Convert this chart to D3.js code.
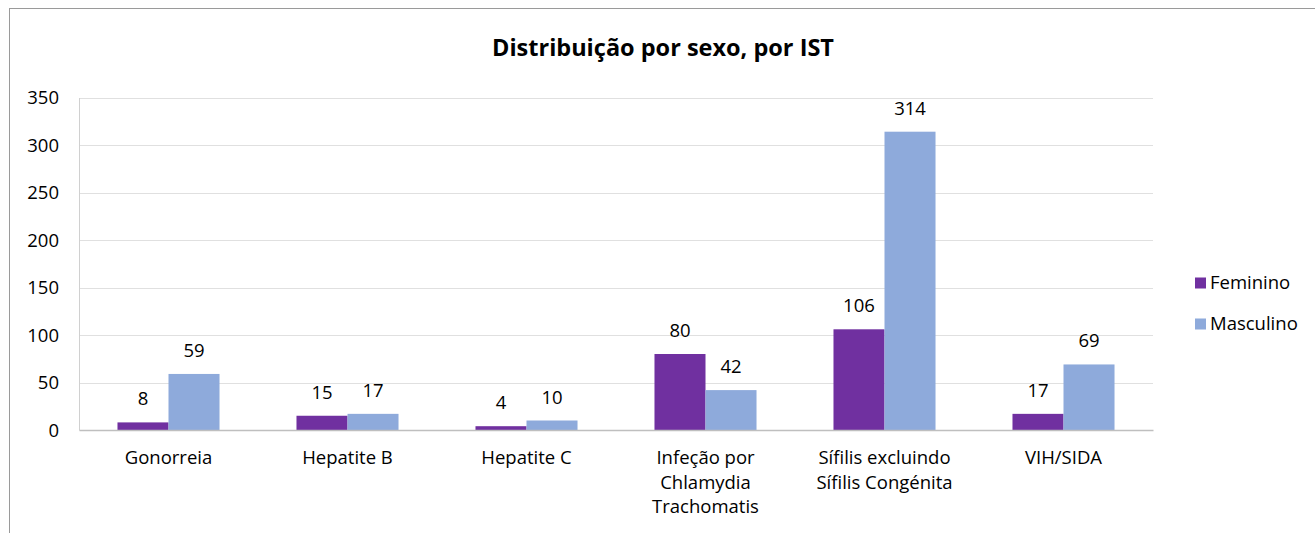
<!DOCTYPE html>
<html>
<head>
<meta charset="utf-8">
<script src="https://cdn.jsdelivr.net/npm/d3@7"></script>
<style>
  body { margin: 0; background: #fff; }
  text { font-family: "Open Sans", "Liberation Sans", sans-serif; fill: #000; }
</style>
</head>
<body>
<div id="chart"></div>
<script>
// Data
const categories = [
  "Gonorreia",
  "Hepatite B",
  "Hepatite C",
  "Infeção por|Chlamydia|Trachomatis",
  "Sífilis excluindo|Sífilis Congénita",
  "VIH/SIDA",
];
const series = ["Feminino", "Masculino"];
const feminino = [8, 15, 4, 80, 106, 17];
const masculino = [59, 17, 10, 42, 314, 69];
const yTicks = [0, 50, 100, 150, 200, 250, 300, 350];
const colors = ["#7030A0", "#8EAADB"];

const width = 1315;
const height = 533;
const plot = { left: 79, right: 1153, top: 97.5, bottom: 430 };
const fontSize = "18.5px";

const svg = d3
  .select("#chart")
  .append("svg")
  .attr("width", width)
  .attr("height", height);

// Outer chart border
svg
  .append("rect")
  .attr("x", 9.5)
  .attr("y", 8.5)
  .attr("width", 1320)
  .attr("height", 540)
  .attr("fill", "none")
  .attr("stroke", "#9a9a9a")
  .attr("stroke-width", 1);

svg
  .append("text")
  .attr("x", 663)
  .attr("y", 56)
  .attr("text-anchor", "middle")
  .style("font-size", "23.5px")
  .style("font-weight", "bold")
  .text("Distribuição por sexo, por IST");

// Scales
const x0 = d3
  .scaleBand()
  .domain(categories)
  .range([plot.left, plot.right])
  .paddingInner(0.43)
  .paddingOuter(0.215);

const x1 = d3.scaleBand().domain(series).range([0, x0.bandwidth()]);

const y = d3.scaleLinear().domain([0, 350]).range([plot.bottom, plot.top]);

// Gridlines
svg
  .append("g")
  .selectAll("line")
  .data(yTicks.filter((d) => d > 0))
  .join("line")
  .attr("x1", plot.left)
  .attr("x2", plot.right)
  .attr("y1", (d) => Math.round(y(d)) + 0.5)
  .attr("y2", (d) => Math.round(y(d)) + 0.5)
  .attr("stroke", "#e0e0e0");

// Y axis
const yAxis = svg
  .append("g")
  .attr("transform", `translate(${plot.left},0)`)
  .call(d3.axisLeft(y).tickValues(yTicks).tickSize(0).tickPadding(20));
yAxis.select(".domain").attr("stroke", "#d0d0d0");
yAxis.selectAll("text").style("font-size", fontSize).attr("dy", "0.35em");

// Bars
const rows = categories.map((c, i) => ({ cat: c, values: [feminino[i], masculino[i]] }));

const groups = svg
  .append("g")
  .selectAll("g")
  .data(rows)
  .join("g")
  .attr("transform", (d) => `translate(${x0(d.cat)},0)`);

groups
  .selectAll("rect")
  .data((d) => d.values.map((v, j) => ({ key: series[j], value: v, j })))
  .join("rect")
  .attr("x", (d) => x1(d.key))
  .attr("width", x1.bandwidth())
  .attr("y", (d) => y(d.value))
  .attr("height", (d) => y(0) - y(d.value))
  .attr("fill", (d) => colors[d.j]);

groups
  .selectAll("text")
  .data((d) => d.values.map((v, j) => ({ key: series[j], value: v })))
  .join("text")
  .attr("x", (d) => x1(d.key) + x1.bandwidth() / 2)
  .attr("y", (d) => y(d.value) - 17)
  .attr("text-anchor", "middle")
  .style("font-size", fontSize)
  .text((d) => d.value);

// X axis
const xAxis = svg
  .append("g")
  .attr("transform", `translate(0,${plot.bottom})`)
  .call(d3.axisBottom(x0).tickSize(0).tickFormat(() => ""));
xAxis.select(".domain").attr("stroke", "#bfbfbf").attr("stroke-width", 1.5);

xAxis
  .selectAll(".tick text")
  .each(function (d) {
    const t = d3.select(this);
    const lines = d.split("|");
    lines.forEach((line, i) => {
      t.append("tspan")
        .attr("x", 0)
        .attr("y", 28 + i * 24.5)
        .attr("dy", "0.35em")
        .text(line);
    });
  })
  .style("font-size", fontSize);

// Legend
const legend = svg
  .append("g")
  .selectAll("g")
  .data(series)
  .join("g")
  .attr("transform", (d, i) => `translate(1195,${283 + i * 41})`);

legend
  .append("rect")
  .attr("x", 0)
  .attr("y", -5.5)
  .attr("width", 11)
  .attr("height", 11)
  .attr("fill", (d, i) => colors[i]);

legend
  .append("text")
  .attr("x", 15)
  .attr("y", 0)
  .attr("dy", "0.35em")
  .style("font-size", fontSize)
  .text((d) => d);
</script>
</body>
</html>
